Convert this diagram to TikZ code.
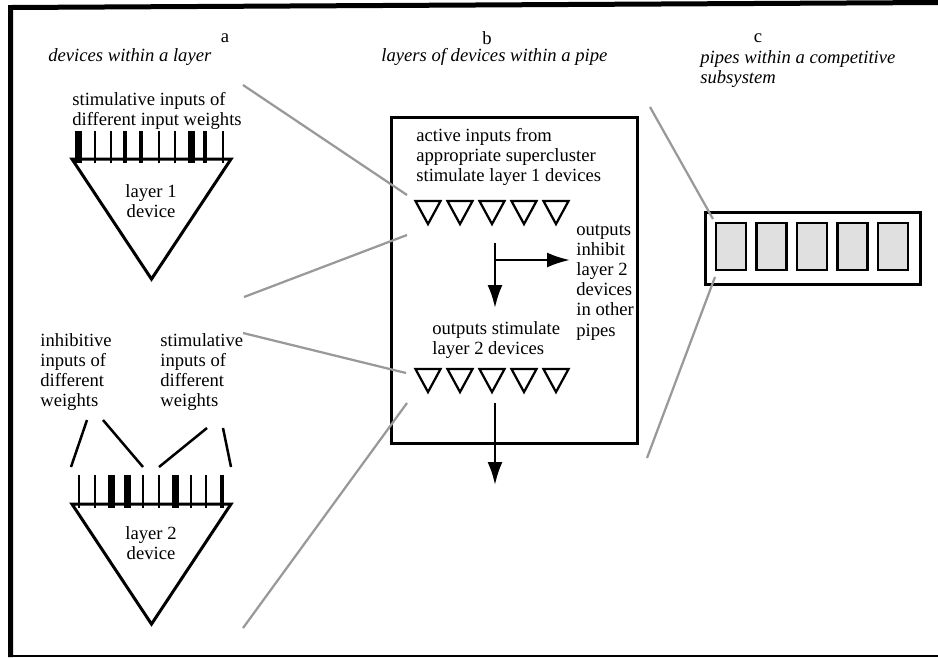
\documentclass[tikz,border=0pt]{standalone}
\usepackage{fontspec}
\setmainfont{Liberation Serif}
\usetikzlibrary{arrows.meta,shapes.geometric}
\tikzset{
  txt/.style = {inner sep=0pt, align=left,
    font=\fontsize{10.6}{11.4}\selectfont},% plain text
  head/.style = {txt, font=\fontsize{10.6}{11.4}\selectfont\itshape},% captions
  bigdev/.style = {isosceles triangle, isosceles triangle stretches,
    shape border rotate=-90, draw, line width=0.6mm, inner sep=0pt,
    minimum width=31.8mm, minimum height=24mm},% one device, large
  dev/.style = {isosceles triangle, isosceles triangle stretches,
    shape border rotate=-90, draw, line width=0.45mm, inner sep=0pt,
    minimum width=5mm, minimum height=4.6mm},% one device, small
  pipe/.style = {draw, line width=0.5mm, fill=black!12, inner sep=0pt,
    minimum width=6mm, minimum height=9.4mm},
  frame/.style = {draw, line width=0.6mm, inner sep=0pt},
  zoomline/.style = {draw=black!40, line width=0.45mm},
  flow/.style = {line width=0.5mm, -{Latex[length=4.6mm,width=3mm]}}
}

\begin{document}
\begin{tikzpicture}[x=0.2mm, y=-0.2mm]
  \useasboundingbox (0,0) rectangle (938,657);
  % border
  \draw[line width=1mm] (938,2.5) -- (10.5,7.5) -- (10.5,657);
  \draw[line width=0.4mm] (10.5,656) -- (938,656);

  % captions
  \node[txt] (ta) at (225,38) {a};
  \node[head, anchor=west] (capa) at (48,57) {devices within a layer};
  \node[txt] (tb) at (487,38) {b};
  \node[head, anchor=west] (capb) at (381,57) {layers of devices within a pipe};
  \node[txt] (tc) at (758,38) {c};
  \node[head, anchor=north west] (capc) at (700,50) {pipes within a competitive\\subsystem};

  % layer 1 device
  \node[txt, anchor=north west] (in1) at (72,92) {stimulative inputs of\\different input weights};
  \foreach \x/\w in {78/7,95/2,111/2,125/4,141/4,159/2,175/2,191/7,205/4,223/2}
    \draw[line width=\w*0.2mm] (\x,131) -- (\x,163);
  \node[bigdev, anchor=apex] (dev1) at (151.5,283) {};
  \node[txt, align=center] (lab1) at (151,201) {layer 1\\device};

  % layer 2 device
  \node[txt, anchor=north west] (inh) at (40,333) {inhibitive\\inputs of\\different\\weights};
  \node[txt, anchor=north west] (sti) at (160,333) {stimulative\\inputs of\\different\\weights};
  \coordinate (inhA) at (87,420);   \coordinate (inhB) at (103,420);
  \coordinate (stiA) at (207,428);  \coordinate (stiB) at (223,428);
  \draw[line width=0.5mm] (inhA) -- (71,467) (inhB) -- (143,467);
  \draw[line width=0.5mm] (stiA) -- (159,467) (stiB) -- (231,467);
  \foreach \x/\w in {79/2,95/2,111/7,127/7,143/2,159/2,175/7,191/2,206/2,222/4}
    \draw[line width=\w*0.2mm] (\x,475) -- (\x,508);
  \node[bigdev, anchor=apex] (dev2) at (151.5,628) {};
  \node[txt, align=center] (lab2) at (151,543) {layer 2\\device};

  % one pipe
  \node[frame, minimum width=49.2mm, minimum height=65.2mm] (pipe) at (514,280) {};
  \node[txt, anchor=north west] (act) at (416,128) {active inputs from\\appropriate supercluster\\stimulate layer 1 devices};
  \foreach \x [count=\n] in {428,460,492,524,556}
    \node[dev, anchor=apex] (a\n) at (\x,227) {};
  \node[txt, anchor=north west] (out1) at (432,321) {outputs stimulate\\layer 2 devices};
  \foreach \x [count=\n] in {428,460,492,524,556}
    \node[dev, anchor=apex] (b\n) at (\x,395) {};
  \node[txt, anchor=north west] (out2) at (576,225) {outputs\\inhibit\\layer 2\\devices\\in other\\pipes};
  \coordinate (f1) at (495,243);  \coordinate (f2) at (495,308);
  \coordinate (g1) at (495,260);  \coordinate (g2) at (570,260);
  \coordinate (h1) at (495,403);  \coordinate (h2) at (495,485);
  \draw[flow] (f1) -- (f2);
  \draw[flow] (g1) -- (g2);
  \draw[flow] (h1) -- (h2);

  % competitive subsystem
  \node[frame, minimum width=43mm, minimum height=14.4mm] (comp) at (812.5,248) {};
  \foreach \n in {0,...,4}
    \node[pipe] (p\n) at ({731+40.5*\n},246.5) {};

  % zoom guides
  \coordinate (z1) at (243,85);   \coordinate (z2) at (407,195);
  \coordinate (z3) at (244,297);  \coordinate (z4) at (407,235);
  \coordinate (z5) at (243,333);  \coordinate (z6) at (406,373);
  \coordinate (z7) at (243,628);  \coordinate (z8) at (407,403);
  \coordinate (z9) at (650,107);  \coordinate (z10) at (713,219);
  \coordinate (z11) at (647,458); \coordinate (z12) at (715,277);
  \draw[zoomline] (z1) -- (z2) (z3) -- (z4) (z5) -- (z6) (z7) -- (z8);
  \draw[zoomline] (z9) -- (z10) (z11) -- (z12);
\end{tikzpicture}
\end{document}
